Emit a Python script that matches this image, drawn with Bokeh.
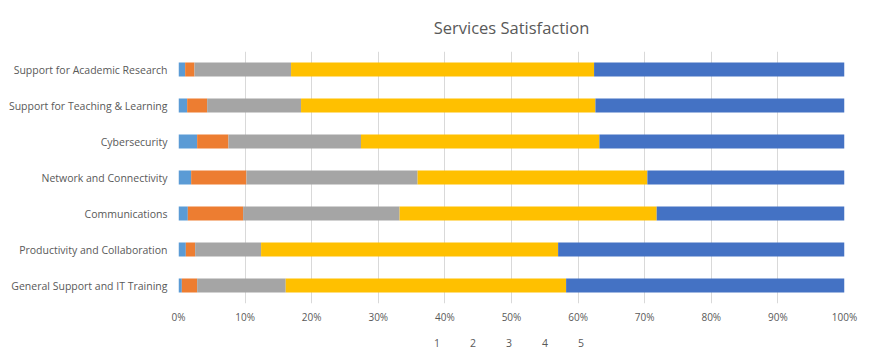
from bokeh.plotting import figure
from bokeh.layouts import column
from bokeh.models import FixedTicker, NumeralTickFormatter, Legend, LegendItem, Range1d
from bokeh.embed import file_html
from bokeh.resources import INLINE

categories = [
    "General Support and IT Training",
    "Productivity and Collaboration",
    "Communications",
    "Network and Connectivity",
    "Cybersecurity",
    "Support for Teaching & Learning",
    "Support for Academic Research",
]
# share of responses (%) per rating, bottom row first
r1 = [0.5, 1.1, 1.4, 1.9, 2.8, 1.3, 1.0]
r2 = [2.3, 1.4, 8.3, 8.3, 4.7, 3.0, 1.4]
r3 = [13.3, 9.9, 23.5, 25.7, 19.9, 14.1, 14.5]
r4 = [42.1, 44.6, 38.6, 34.5, 35.8, 44.2, 45.5]
r5 = [41.8, 43.0, 28.2, 29.6, 36.8, 37.4, 37.6]
series_names = ["1", "2", "3", "4", "5"]
colors = ["#5B9BD5", "#ED7D31", "#A5A5A5", "#FFC000", "#4472C4"]
tick_values = [0, 0.1, 0.2, 0.3, 0.4, 0.5, 0.6, 0.7, 0.8, 0.9, 1.0]

data = {"cat": categories}
for name, vals in zip(series_names, [r1, r2, r3, r4, r5]):
    data[name] = [v / 100.0 for v in vals]
for i in range(len(categories)):
    s = sum(data[n][i] for n in series_names)
    for n in series_names:
        data[n][i] = data[n][i] / s

FONT = "Open Sans"
TXT = "#595959"

p = figure(
    y_range=categories, x_range=(0, 1), frame_width=666, frame_height=252,
    output_backend="svg", toolbar_location=None,
    min_border_left=178, min_border_right=28, min_border_top=50, min_border_bottom=25,
)
p.hbar_stack(series_names, y="cat", height=0.39, color=colors,
             source=data, line_color=None)

p.title.text = "Services Satisfaction"
p.title.align = "center"
p.title.text_font = FONT
p.title.text_font_size = "16.5px"
p.title.text_font_style = "normal"
p.title.text_color = TXT
p.title.standoff = 26

p.outline_line_color = None
p.xgrid.ticker = FixedTicker(ticks=tick_values)
p.xgrid.grid_line_color = "#D9D9D9"
p.xgrid.grid_line_width = 1
p.ygrid.grid_line_color = None

p.xaxis.ticker = FixedTicker(ticks=tick_values)
p.xaxis.formatter = NumeralTickFormatter(format="0%")
for ax in (p.xaxis[0], p.yaxis[0]):
    ax.axis_line_color = None
    ax.major_tick_line_color = None
    ax.minor_tick_line_color = None
    ax.major_tick_out = 0
    ax.major_tick_in = 0
    ax.minor_tick_out = 0
    ax.major_label_text_font = FONT
    ax.major_label_text_color = TXT
p.xaxis.major_label_text_font_size = "10px"
p.yaxis.major_label_text_font_size = "10.5px"
p.xaxis.major_label_standoff = 6
p.yaxis.major_label_standoff = 11

# legend strip below the chart
lg = figure(
    width=872, height=30, x_range=Range1d(0, 1), y_range=Range1d(0, 1),
    output_backend="svg", toolbar_location=None,
    min_border_left=0, min_border_right=0, min_border_top=0, min_border_bottom=0,
)
lg.axis.visible = False
lg.grid.visible = False
lg.outline_line_color = None
items = []
for name, c in zip(series_names, colors):
    r = lg.vbar(x=[], top=[], width=0.1, color=c, line_color=None)
    items.append(LegendItem(label=name, renderers=[r]))
legend = Legend(
    items=items, orientation="horizontal", location="center",
    label_text_font=FONT, label_text_font_size="10.5px", label_text_color=TXT,
    glyph_width=7, glyph_height=7, label_standoff=3, spacing=6,
    border_line_color=None, background_fill_alpha=0, margin=0, padding=0,
    label_height=12,
)
lg.add_layout(legend)

layout = column(p, lg)
open("out.html", "w").write(file_html(layout, INLINE))
